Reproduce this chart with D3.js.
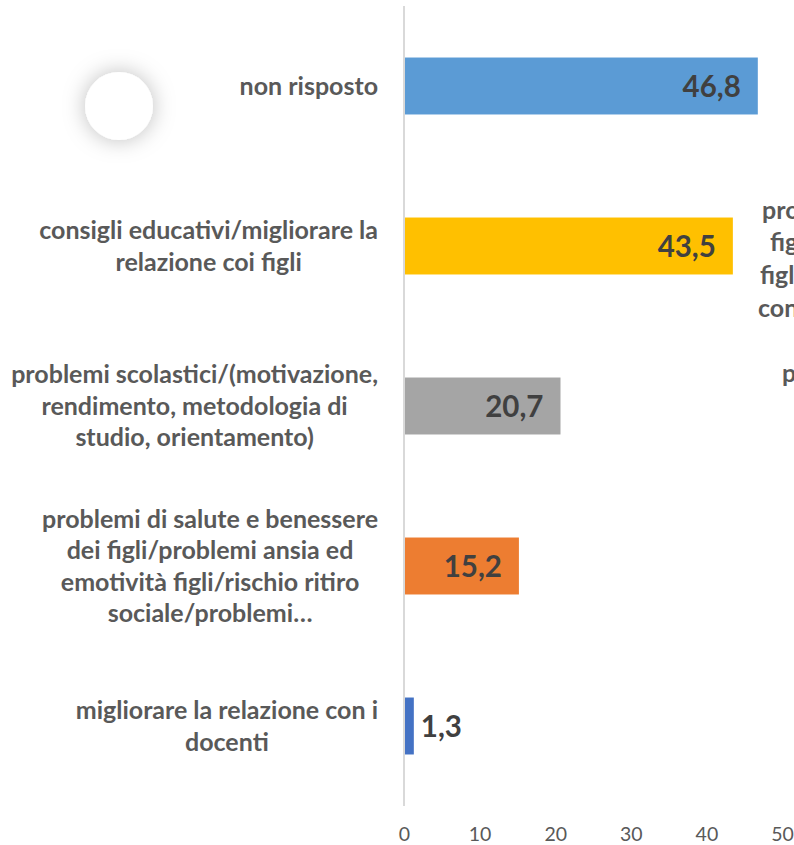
<!DOCTYPE html>
<html>
<head>
<meta charset="utf-8">
<script src="https://cdn.jsdelivr.net/npm/d3@7"></script>
<style>
  html, body { margin: 0; padding: 0; background: #fff; overflow: hidden; }
  svg { display: block; }
</style>
</head>
<body>
<div id="chart"></div>
<script>
// data, top to bottom as in the picture
const categories = [
  'non risposto',
  'consigli educativi/migliorare la relazione coi figli',
  'problemi scolastici/(motivazione, rendimento, metodologia di studio, orientamento)',
  'problemi di salute e benessere dei figli/problemi ansia ed emotività figli/rischio ritiro sociale/problemi…',
  'migliorare la relazione con i docenti'
];
const labelLines = [
  ['non risposto'],
  ['consigli educativi/migliorare la', 'relazione coi figli'],
  ['problemi scolastici/(motivazione,', 'rendimento, metodologia di', 'studio, orientamento)'],
  ['problemi di salute e benessere', 'dei figli/problemi ansia ed', 'emotività figli/rischio ritiro', 'sociale/problemi…'],
  ['migliorare la relazione con i', 'docenti']
];
const values = [46.8, 43.5, 20.7, 15.2, 1.3];
const barColors = ['#5b9bd5', '#ffc000', '#a5a5a5', '#ed7d31', '#4472c4'];
const xTicks = [0, 10, 20, 30, 40, 50];
// cut-off label of the neighbouring chart on the right edge
const sideLines = ['problemi', 'figli', 'figli/', 'con', '', 'p'];

const width = 794, height = 845;
const font = 'Lato, "Open Sans", sans-serif';
const svg = d3.select('#chart').append('svg')
  .attr('width', width)
  .attr('height', height);

// soft shadow for the decorative circle
const defs = svg.append('defs');
const f = defs.append('filter').attr('id', 'shadow')
  .attr('x', '-100%').attr('y', '-100%').attr('width', '300%').attr('height', '300%');
f.append('feGaussianBlur').attr('in', 'SourceAlpha').attr('stdDeviation', 11).attr('result', 'b');
f.append('feFlood').attr('flood-color', '#000').attr('flood-opacity', 0.26);
f.append('feComposite').attr('in2', 'b').attr('operator', 'in').attr('result', 's');
const m = f.append('feMerge');
m.append('feMergeNode').attr('in', 's');
m.append('feMergeNode').attr('in', 'SourceGraphic');

svg.append('circle')
  .attr('cx', 119).attr('cy', 106).attr('r', 34)
  .attr('fill', '#fff')
  .attr('filter', 'url(#shadow)');

// scales
const x = d3.scaleLinear().domain([0, 50]).range([404, 782]);
const y = d3.scaleBand().domain(categories).range([6, 806])
  .paddingInner(0.644).paddingOuter(0.322);

// bars
svg.selectAll('.bar')
  .data(values)
  .enter()
  .append('rect')
  .attr('class', 'bar')
  .attr('x', x(0))
  .attr('y', (d, i) => y(categories[i]))
  .attr('width', d => x(d) - x(0))
  .attr('height', y.bandwidth())
  .attr('fill', (d, i) => barColors[i]);

// vertical axis line
svg.append('line')
  .attr('x1', x(0)).attr('x2', x(0))
  .attr('y1', 6).attr('y2', 806)
  .attr('stroke', '#d9d9d9')
  .attr('stroke-width', 2);

// x axis tick labels
const xAxis = svg.append('g')
  .attr('transform', 'translate(0,834)')
  .call(d3.axisBottom(x).tickValues(xTicks).tickSize(0).tickPadding(0));
xAxis.select('.domain').remove();
xAxis.selectAll('text')
  .attr('dy', '0.36em')
  .style('font-family', font)
  .style('font-size', '19.5px')
  .style('fill', '#595959');

// category labels: each block is right-aligned at 378, lines centred inside it
const lineH = 31.5;
const labelRight = 378;
svg.selectAll('.cat')
  .data(labelLines)
  .enter()
  .append('text')
  .attr('class', 'cat')
  .attr('text-anchor', 'middle')
  .style('font-family', font)
  .style('font-weight', 'bold')
  .style('font-size', '25px')
  .style('fill', '#595959')
  .each(function (lines, i) {
    const g = d3.select(this);
    const cy = y(categories[i]) + y.bandwidth() / 2;
    const top = cy - (lines.length - 1) * lineH / 2;
    const spans = g.selectAll('tspan')
      .data(lines)
      .enter()
      .append('tspan')
      .attr('y', (l, k) => top + k * lineH)
      .attr('dy', '0.35em')
      .text(l => l);
    let maxW = 0;
    spans.each(function () { maxW = Math.max(maxW, this.getComputedTextLength()); });
    spans.attr('x', labelRight - maxW / 2);
  });

// value labels: inside end, small ones outside
svg.selectAll('.val')
  .data(values)
  .enter()
  .append('text')
  .attr('class', 'val')
  .attr('x', d => d < 5 ? x(d) + 7 : x(d) - 17)
  .attr('y', (d, i) => y(categories[i]) + y.bandwidth() / 2)
  .attr('dy', '0.36em')
  .attr('text-anchor', d => d < 5 ? 'start' : 'end')
  .style('font-family', font)
  .style('font-weight', 'bold')
  .style('font-size', '29.5px')
  .style('fill', '#404040')
  .text(d => d3.format('.1f')(d).replace('.', ','));

// partial text from the next chart, clipped by the page edge
const sideX = [762, 770, 760, 758, 0, 782];
svg.selectAll('.side')
  .data(sideLines)
  .enter()
  .append('text')
  .attr('class', 'side')
  .attr('x', (d, i) => sideX[i])
  .attr('y', (d, i) => 210 + i * 32.6)
  .attr('dy', '0.35em')
  .style('font-family', font)
  .style('font-weight', 'bold')
  .style('font-size', '25px')
  .style('fill', '#595959')
  .text(d => d);
</script>
</body>
</html>
